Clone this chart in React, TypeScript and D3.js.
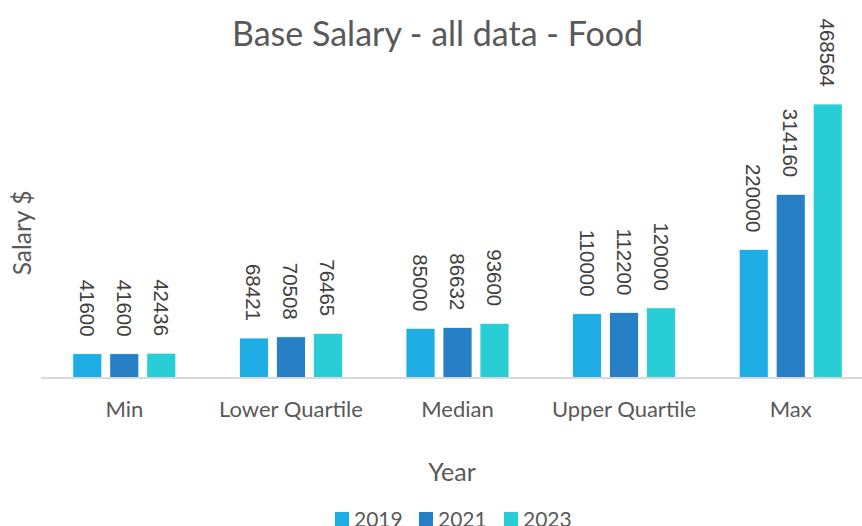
import React from "react";
import * as d3 from "d3";

const categories = ["Min", "Lower Quartile", "Median", "Upper Quartile", "Max"];
const years = ["2019", "2021", "2023"];
const values2019 = [41600, 68421, 85000, 110000, 220000];
const values2021 = [41600, 70508, 86632, 112200, 314160];
const values2023 = [42436, 76465, 93600, 120000, 468564];
const colors = ["#1EADE4", "#2780C6", "#29CDD6"];

const W = 862;
const H = 526;

export default function App() {
  const series = [values2019, values2021, values2023];
  const x = d3.scaleBand<string>().domain(categories).range([41, 874]).paddingInner(0).paddingOuter(0);
  const xInner = d3.scaleBand<string>().domain(years).range([0, x.bandwidth()]).paddingInner(0.216).paddingOuter(0.86);
  const y = d3.scaleLinear().domain([0, 500000]).range([378, 85.6]);
  const font = "Lato, 'Open Sans', sans-serif";
  return (
    <svg width={W} height={H} style={{ position: "absolute", left: 0, top: 0, background: "#fff" }}>
      <text x={437.5} y={46} textAnchor="middle" fontFamily={font} fontSize={34} fill="#595959">
        Base Salary - all data - Food
      </text>
      {categories.map((c, i) => (
        <g key={c}>
          {series.map((s, j) => {
            const bx = (x(c) as number) + (xInner(years[j]) as number);
            const bw = xInner.bandwidth();
            const top = y(s[i]);
            return (
              <g key={j}>
                <rect x={bx} y={top} width={bw} height={y(0) - top} fill={colors[j]} stroke="#fff" strokeWidth={0.8} />
                <text
                  transform={`translate(${bx + bw / 2},${top - 17}) rotate(90)`}
                  textAnchor="end"
                  dominantBaseline="central"
                  fontFamily="'Liberation Sans', Arial, sans-serif"
                  fontSize={20.5}
                  fill="#404040"
                >
                  {s[i]}
                </text>
              </g>
            );
          })}
          <text x={(x(c) as number) + x.bandwidth() / 2} y={417} textAnchor="middle" fontFamily={font} fontSize={22} fill="#595959">
            {c}
          </text>
        </g>
      ))}
      <line x1={41} x2={862} y1={378} y2={378} stroke="#d9d9d9" strokeWidth={2} />
      <text transform="translate(31,233) rotate(-90)" textAnchor="middle" fontFamily={font} fontSize={24.5} fill="#595959">
        Salary $
      </text>
      <text x={452} y={481} textAnchor="middle" fontFamily={font} fontSize={25} fill="#595959">
        Year
      </text>
      {years.map((yr, j) => {
        const lx = [335, 419, 504][j];
        return (
          <g key={yr}>
            <rect x={lx} y={512} width={14} height={14} fill={colors[j]} />
            <text x={lx + 19} y={527} fontFamily={font} fontSize={21} fill="#595959">
              {yr}
            </text>
          </g>
        );
      })}
    </svg>
  );
}
